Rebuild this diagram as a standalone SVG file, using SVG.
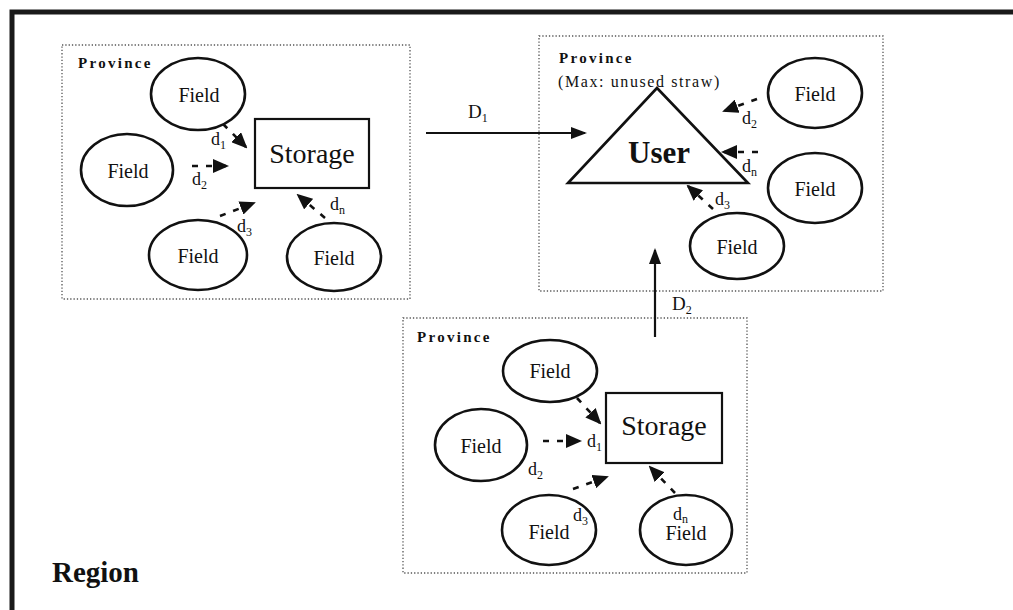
<svg xmlns="http://www.w3.org/2000/svg" width="1013" height="610" viewBox="0 0 1013 610">
  <style>
    text { font-family: "Liberation Serif", "Times New Roman", serif; fill: #111; }
    .prov { font-size: 15px; font-weight: bold; letter-spacing: 2.3px; }
    .note { font-size: 16px; letter-spacing: 1.6px; }
    .field { font-size: 20px; text-anchor: middle; }
    .store { font-size: 28px; text-anchor: middle; }
    .user { font-size: 31px; font-weight: bold; text-anchor: middle; }
    .lbl { font-size: 18px; }
    .sub { font-size: 12px; }
    .big { font-size: 19px; }
    .region { font-size: 29px; font-weight: bold; }
    .zone { fill: none; stroke: #555; stroke-width: 1.3; stroke-dasharray: 1.3 2; }
    .ell { fill: #fff; stroke: #111; stroke-width: 2.6; }
    .box { fill: #fff; stroke: #111; stroke-width: 2.2; }
    .flow { stroke: #111; stroke-width: 2.6; stroke-dasharray: 6 8; fill: none; marker-end: url(#head); }
    .main { stroke: #111; stroke-width: 2.2; fill: none; marker-end: url(#head2); }
  </style>
  <defs>
    <marker id="head" markerUnits="userSpaceOnUse" markerWidth="16" markerHeight="14" refX="14" refY="7" orient="auto">
      <path d="M0,0 L16,7 L0,14 z" fill="#111"/>
    </marker>
    <marker id="head2" markerUnits="userSpaceOnUse" markerWidth="16" markerHeight="12" refX="14" refY="6" orient="auto">
      <path d="M0,0 L16,6 L0,12 z" fill="#111"/>
    </marker>
  </defs>

  <rect width="1013" height="610" fill="#fff"/>

  <!-- outer region frame: top and left edges only -->
  <g id="region-frame">
    <path d="M12,610 V12 H1013" fill="none" stroke="#1a1a1a" stroke-width="5"/>
    <text class="region" x="52" y="582">Region</text>
  </g>

  <!-- province zones -->
  <g id="province-west">
    <rect class="zone" x="62" y="45" width="348" height="254"/>
    <text class="prov" x="78" y="68">Province</text>
  </g>
  <g id="province-user">
    <rect class="zone" x="539" y="36" width="344" height="255"/>
    <text class="prov" x="559" y="63">Province</text>
    <text class="note" x="558" y="87">(Max: unused straw)</text>
  </g>
  <g id="province-south">
    <rect class="zone" x="403" y="318" width="344" height="255"/>
    <text class="prov" x="417" y="342">Province</text>
  </g>

  <!-- connectors -->
  <g id="connectors">
    <!-- west province feeds -->
    <line class="flow" x1="223" y1="124" x2="246" y2="147"/>
    <line class="flow" x1="192" y1="166" x2="227" y2="166"/>
    <line class="flow" x1="220" y1="216" x2="254" y2="203"/>
    <line class="flow" x1="325" y1="218" x2="298" y2="195"/>
    <!-- user province feeds -->
    <line class="flow" x1="757" y1="99" x2="724" y2="111"/>
    <line class="flow" x1="758" y1="152" x2="723" y2="152"/>
    <line class="flow" x1="713" y1="209" x2="688" y2="186"/>
    <!-- south province feeds -->
    <line class="flow" x1="577" y1="398" x2="600" y2="423"/>
    <line class="flow" x1="543" y1="441" x2="580" y2="441"/>
    <line class="flow" x1="573" y1="489" x2="607" y2="477"/>
    <line class="flow" x1="675" y1="493" x2="650" y2="467"/>
    <!-- inter-province transport -->
    <line class="main" x1="426" y1="133" x2="585" y2="133"/>
    <line class="main" x1="655" y1="337" x2="655" y2="250"/>

    <!-- distance labels -->
    <text class="lbl" x="211" y="145">d<tspan class="sub" dy="4">1</tspan></text>
    <text class="lbl" x="192" y="185">d<tspan class="sub" dy="4">2</tspan></text>
    <text class="lbl" x="237" y="232">d<tspan class="sub" dy="4">3</tspan></text>
    <text class="lbl" x="330" y="210">d<tspan class="sub" dy="4">n</tspan></text>

    <text class="lbl" x="742" y="124">d<tspan class="sub" dy="4">2</tspan></text>
    <text class="lbl" x="742" y="172">d<tspan class="sub" dy="4">n</tspan></text>
    <text class="lbl" x="715" y="205">d<tspan class="sub" dy="4">3</tspan></text>

    <text class="lbl" x="587" y="447">d<tspan class="sub" dy="4">1</tspan></text>
    <text class="lbl" x="528" y="475">d<tspan class="sub" dy="4">2</tspan></text>

    <text class="big" x="468" y="118">D<tspan class="sub" dy="4">1</tspan></text>
    <text class="big" x="672" y="310">D<tspan class="sub" dy="4">2</tspan></text>
  </g>

  <!-- west province nodes -->
  <g id="w-field-1"><ellipse class="ell" cx="198" cy="94" rx="47" ry="36"/><text class="field" x="199" y="102">Field</text></g>
  <g id="w-field-2"><ellipse class="ell" cx="127" cy="170" rx="46" ry="36"/><text class="field" x="128" y="178">Field</text></g>
  <g id="w-field-3"><ellipse class="ell" cx="198" cy="255" rx="49" ry="35"/><text class="field" x="198" y="263">Field</text></g>
  <g id="w-field-4"><ellipse class="ell" cx="334" cy="257" rx="47" ry="34"/><text class="field" x="334" y="265">Field</text></g>
  <g id="w-storage"><rect class="box" x="255" y="119" width="114" height="69"/><text class="store" x="312" y="163">Storage</text></g>

  <!-- user province nodes -->
  <g id="user">
    <path d="M657,88 L748,183 L568,183 Z" fill="none" stroke="#111" stroke-width="2.6" stroke-linejoin="miter"/>
    <text class="user" x="659" y="163">User</text>
  </g>
  <g id="u-field-1"><ellipse class="ell" cx="815" cy="93" rx="47" ry="35"/><text class="field" x="815" y="101">Field</text></g>
  <g id="u-field-2"><ellipse class="ell" cx="815" cy="188" rx="47" ry="35"/><text class="field" x="815" y="196">Field</text></g>
  <g id="u-field-3"><ellipse class="ell" cx="737" cy="246" rx="47" ry="33"/><text class="field" x="737" y="254">Field</text></g>

  <!-- south province nodes -->
  <g id="s-field-1"><ellipse class="ell" cx="550" cy="371" rx="47" ry="31"/><text class="field" x="550" y="378">Field</text></g>
  <g id="s-field-2"><ellipse class="ell" cx="481" cy="445" rx="46" ry="36"/><text class="field" x="481" y="453">Field</text></g>
  <g id="s-field-3"><ellipse class="ell" cx="549" cy="530" rx="47" ry="35"/><text class="field" x="549" y="539">Field</text></g>
  <g id="s-field-4"><ellipse class="ell" cx="686" cy="530" rx="46" ry="35"/><text class="field" x="686" y="540">Field</text></g>
  <g id="s-storage"><rect class="box" x="606" y="393" width="116" height="70"/><text class="store" x="664" y="435">Storage</text></g>

  <!-- labels printed over the south field outlines -->
  <g id="s-labels">
    <text class="lbl" x="573" y="521">d<tspan class="sub" dy="4">3</tspan></text>
    <text class="lbl" x="673" y="520">d<tspan class="sub" dy="3">n</tspan></text>
  </g>
</svg>
